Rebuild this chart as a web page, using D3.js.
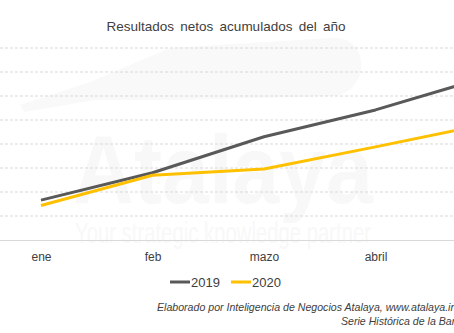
<!DOCTYPE html>
<html><head><meta charset="utf-8">
<script src="https://cdn.jsdelivr.net/npm/d3@7"></script>
<style>
html,body{margin:0;padding:0;overflow:hidden;background:#fff;}
svg{display:block;font-family:"Liberation Sans",Arial,sans-serif;}
</style></head>
<body><div id="chart"></div>
<script>
const categories = ["ene","feb","mazo","abril","mayo"];
const series2019 = [83, 140, 215, 271, 340];
const series2020 = [72, 135, 148, 194, 242];
const seriesNames = ["2019","2020"];
const yTicks = [0,50,100,150,200,250,300,350,400];

const W = 454, H = 333;
const svg = d3.select("#chart").append("svg").attr("width", W).attr("height", H);

// watermark
const wm = svg.append("g").attr("fill","#f8f8f8");
wm.append("path")
  .attr("d","M20,105 L90,82 L170,48 L330,38 C370,34 372,90 335,96 L175,100 L95,100 L25,112 Z")
  .attr("fill","#f9f9f9");
wm.append("text").attr("x",73).attr("y",203).attr("font-size",96).attr("font-weight","bold")
  .attr("textLength",300).attr("lengthAdjust","spacingAndGlyphs").text("Atalaya");
wm.append("text").attr("x",75).attr("y",243).attr("font-size",30)
  .attr("textLength",296).attr("lengthAdjust","spacingAndGlyphs").text("Your strategic knowledge partner");

const x = d3.scalePoint().domain(categories).range([41, 487]);
const y = d3.scaleLinear().domain([0,400]).range([240,48]);

// gridlines
svg.append("g").selectAll("line").data(yTicks.filter(d=>d>0)).join("line")
  .attr("x1",0).attr("x2",W).attr("y1",d=>y(d)).attr("y2",d=>y(d))
  .attr("stroke","#d9d9d9").attr("stroke-width",1).attr("stroke-dasharray","3,2");
// baseline
svg.append("line").attr("x1",0).attr("x2",W).attr("y1",y(0)+0.5).attr("y2",y(0)+0.5)
  .attr("stroke","#d9d9d9").attr("stroke-width",1);

// x axis labels
const xAxis = d3.axisBottom(x).tickSize(0).tickPadding(12);
const gx = svg.append("g").attr("transform",`translate(0,${y(0)})`).call(xAxis);
gx.select(".domain").remove();
gx.selectAll("text").attr("font-size",12).attr("fill","#404040")
  .attr("font-family","'Liberation Sans',Arial,sans-serif");

const line = d3.line().x((d,i)=>x(categories[i])).y(d=>y(d));
const colors = ["#595959","#FFC000"];
[series2019, series2020].forEach((s,k)=>{
  svg.append("path").datum(s).attr("d",line).attr("fill","none")
    .attr("stroke",colors[k]).attr("stroke-width",3).attr("stroke-linejoin","round");
});

// title
svg.append("text").attr("x",226).attr("y",31).attr("text-anchor","middle")
  .attr("font-size",13.5).attr("fill","#404040").attr("word-spacing","2.5")
  .text("Resultados netos acumulados del año");

// legend
const leg = svg.append("g");
const legX = [170, 231];
seriesNames.forEach((n,k)=>{
  leg.append("line").attr("x1",legX[k]).attr("x2",legX[k]+20).attr("y1",282).attr("y2",282)
    .attr("stroke",colors[k]).attr("stroke-width",3);
  leg.append("text").attr("x",legX[k]+21).attr("y",287).attr("font-size",13)
    .attr("fill","#404040").text(n);
});

// footer
svg.append("text").attr("x",157).attr("y",311).attr("font-size",10.6).attr("font-style","italic")
  .attr("fill","#404040").text("Elaborado por Inteligencia de Negocios Atalaya, www.atalaya.info");
svg.append("text").attr("x",341).attr("y",325).attr("font-size",10.6).attr("font-style","italic")
  .attr("fill","#404040").text("Serie Histórica de la Banca");
</script></body></html>
